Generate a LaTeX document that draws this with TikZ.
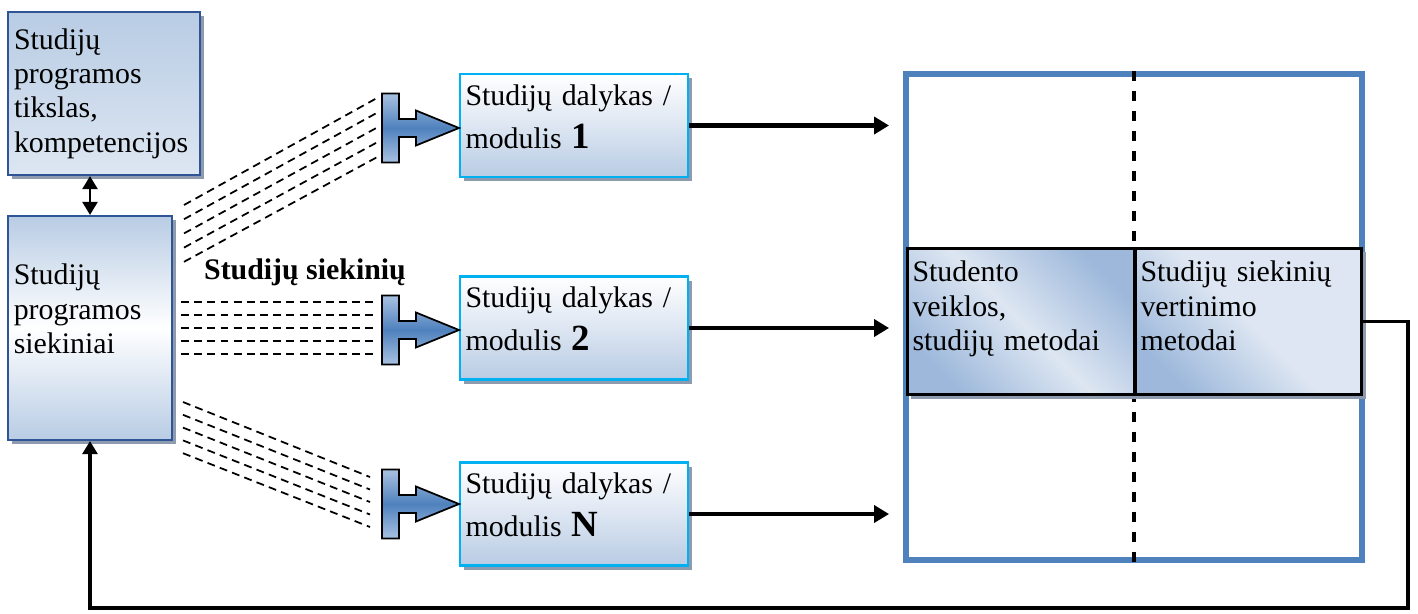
\documentclass[tikz,border=0pt]{standalone}
\usepackage{fontspec}
\setmainfont{Liberation Serif}
\usepackage{tikz}
\usetikzlibrary{arrows.meta,shadows}
\definecolor{progblue}{HTML}{2F5597}
\definecolor{boxblue}{HTML}{B8CCE4}
\definecolor{boxpale}{HTML}{DDE6F2}
\definecolor{methblue}{HTML}{9DB8DB}
\definecolor{modcyan}{HTML}{00B0F0}
\definecolor{frameblue}{HTML}{4F81BD}
\definecolor{tpale}{HTML}{A9C1E1}
\definecolor{shadowgray}{HTML}{8E9BAE}
\newcommand{\boxfont}{\fontsize{17}{19.5}\selectfont}
\tikzset{
  shadowed/.style={drop shadow={shadow xshift=2.3pt, shadow yshift=-2.3pt, fill=shadowgray, opacity=1}},
  progbox/.style={draw=progblue, line width=1.2pt, shadowed, align=left, inner xsep=3pt, inner ysep=3pt, font=\boxfont},
  goalbox/.style={progbox, top color=boxblue, bottom color=boxpale, minimum width=3.84cm, minimum height=3.26cm, text width=3.6cm},
  outbox/.style={progbox, top color=boxblue, bottom color=boxblue, middle color=white, minimum width=3.28cm, minimum height=4.48cm, text width=3.05cm, text height=36pt, text depth=85pt},
  modbox/.style={draw=modcyan, line width=1.2pt, shadowed, top color=white, bottom color=boxblue, middle color=boxpale, align=left, inner xsep=3pt, inner ysep=3pt, font=\boxfont, minimum width=4.56cm, minimum height=2.06cm, text width=4.34cm, text height=14pt, text depth=37pt},
  methodbox/.style={draw=black, line width=1.7pt, shadowed, align=left, inner xsep=3pt, inner ysep=3pt, font=\boxfont, text height=16pt, text depth=61pt, minimum height=2.94cm},
  frame/.style={draw=frameblue, line width=3.4pt, minimum width=9.12cm, minimum height=9.72cm, inner sep=0pt},
  arrow/.style={-{Triangle[length=8.5pt,width=9.6pt]}, line width=2.4pt},
  twoarrow/.style={{Triangle[length=7.5pt,width=8.5pt]}-{Triangle[length=7.5pt,width=8.5pt]}, line width=1.7pt},
  backarrow/.style={-{Triangle[length=7.5pt,width=8.5pt]}, line width=2pt},
  bundle/.style={dash pattern=on 4.5pt off 3pt, line width=1pt},
  middash/.style={dash pattern=on 5.7pt off 5.7pt, line width=1.9pt},
  tarrow/.style={draw=black, line width=1pt, top color=tpale, bottom color=tpale, middle color=frameblue}
}

\begin{document}
\begin{tikzpicture}[x=0.02cm, y=-0.02cm]
\useasboundingbox (0,0) rectangle (1418,613);
% programme boxes
\node[goalbox] (goals) at (104,93.5) {Studijų\\programos\\tikslas,\\kompetencijos};
\node[outbox] (outcomes) at (90,328) {Studijų\\programos\\siekiniai};
\draw[twoarrow] (outcomes.north |- goals.south) -- (outcomes.north);
% modules
\node[modbox] (m1) at (574,125.5) {Studijų dalykas /\\[5pt]modulis {\fontsize{21}{21}\selectfont\bfseries 1}};
\node[modbox] (m2) at (574,328) {Studijų dalykas /\\[5pt]modulis {\fontsize{21}{21}\selectfont\bfseries 2}};
\node[modbox] (m3) at (574,514) {Studijų dalykas /\\[5pt]modulis {\fontsize{21}{21}\selectfont\bfseries N}};
% dashed bundles
\foreach \i in {0,...,4} {
  \draw[bundle] (184,205+14.2*\i) -- (377,98+14.8*\i);
  \draw[bundle] (181,302+13*\i) -- (378,302+13*\i);
  \draw[bundle] (183,402+12.8*\i) -- (370,477+12.5*\i);
}
\node[font=\boxfont\bfseries] (siek) at (305,272) {Studijų siekinių};
% T arrows into the modules
\foreach \m/\dy in {m1/2.5, m2/2, m3/-10}
  \draw[tarrow] ([shift={(0,\dy)}]\m.west) -- ++(-43,-17.5) -- ++(0,8.5) -- ++(-17,0) -- ++(0,-25.5) -- ++(-17,0) -- ++(0,69) -- ++(17,0) -- ++(0,-25.5) -- ++(17,0) -- ++(0,8.5) -- cycle;
% methods frame
\node[frame] (frame) at (1134,317) {};
\draw[middash] (frame.north) -- (frame.south);
\node[methodbox, minimum width=4.56cm, text width=4.34cm, top color=methblue, bottom color=methblue, middle color=boxpale, shading angle=-45] (methods) at (1021,321.5) {Studento\\veiklos,\\studijų metodai};
\node[methodbox, minimum width=4.54cm, text width=4.32cm, top color=boxpale, bottom color=methblue, middle color=boxpale, shading angle=-45] (eval) at (1248.5,321.5) {Studijų siekinių\\vertinimo\\metodai};
\foreach \m in {m1,m2,m3}
  \draw[arrow, shorten >=0.28cm] (\m.east) -- (\m.east -| frame.west);
% feedback loop
\coordinate (fb) at (1408,608);
\draw[backarrow] (eval.east) -| (fb) -| (outcomes.south);
\end{tikzpicture}
\end{document}
